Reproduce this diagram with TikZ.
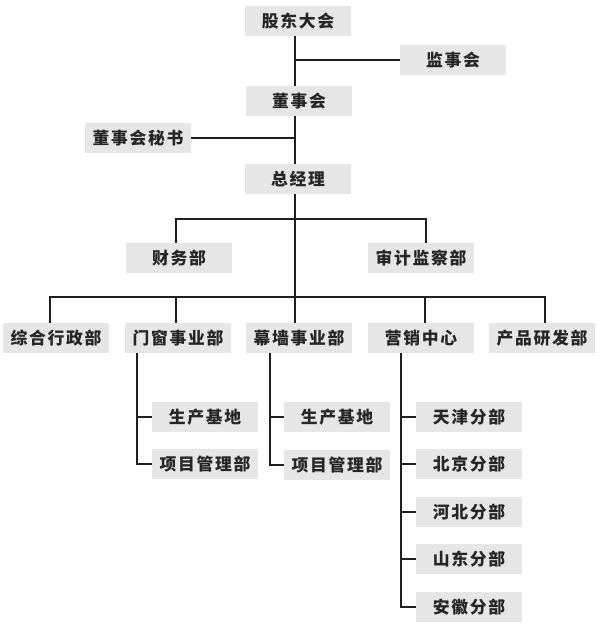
\documentclass[tikz,border=0pt]{standalone}
\usepackage{fontspec}
\newfontfamily\cjk[LetterSpace=10]{Noto Sans CJK SC}
\begin{document}
\begin{tikzpicture}[x=1pt,y=-1pt,
  box/.style={fill=boxgray,minimum width=106pt,minimum height=30pt,inner sep=0pt,
    font=\cjk\bfseries\fontsize{16.8}{18}\selectfont,text=black!85},
  conn/.style={draw=black!88,line width=1.8pt}]
\definecolor{boxgray}{HTML}{E6E6E6}
\useasboundingbox (0,0) rectangle (595,624);
\fill[white] (0,0) rectangle (595,624);
% top chain
\node[box] (gd)  at (298,21)  {股东大会};
\node[box] (js)  at (453,60)  {监事会};
\node[box] (dsh) at (299,101) {董事会};
\node[box] (ms)  at (138,138) {董事会秘书};
\node[box] (zjl) at (298,179) {总经理};
\node[box] (cw)  at (179,258) {财务部};
\node[box] (sj)  at (421,258) {审计监察部};
% main row
\node[box] (zh) at (56,338)  {综合行政部};
\node[box] (mc) at (178,338) {门窗事业部};
\node[box] (mq) at (299,338) {幕墙事业部};
\node[box] (yx) at (421,338) {营销中心};
\node[box] (cp) at (542,338) {产品研发部};
% sub boxes
\node[box] (mc1) at (205,417) {生产基地};
\node[box] (mc2) at (205,464) {项目管理部};
\node[box] (mq1) at (337,417) {生产基地};
\node[box] (mq2) at (337,465) {项目管理部};
\node[box] (yx1) at (469,417) {天津分部};
\node[box] (yx2) at (469,464) {北京分部};
\node[box] (yx3) at (469,512) {河北分部};
\node[box] (yx4) at (469,559) {山东分部};
\node[box] (yx5) at (469,607) {安徽分部};
% coordinates
\coordinate (t0) at (295,0);
\coordinate (b1) at (295,219);
\coordinate (bus) at (295,297);
\coordinate (d1) at (50,297);
\coordinate (d2) at (176,297);
\coordinate (d4) at (425,297);
\coordinate (d5) at (545,297);
\coordinate (cwx) at (176,0);
\coordinate (sjx) at (426,0);
\coordinate (mcx) at (137,0);
\coordinate (mqx) at (270,0);
\coordinate (yxx) at (401,0);
% trunk
\draw[conn] (gd.south -| t0) -- (dsh.north -| t0);
\draw[conn] (dsh.south -| t0) -- (zjl.north -| t0);
\draw[conn] (zjl.south -| t0) -- (bus);
\draw[conn] (js.west -| t0) -- (js.west);
\draw[conn] (ms.east) -- (ms.east -| t0);
% finance / audit
\draw[conn] (cw.north -| cwx) -- (b1 -| cwx) -- (b1 -| sjx) -- (sj.north -| sjx);
% bus
\draw[conn] (zh.north -| d1) -- (d1) -- (d5) -- (cp.north -| d5);
\draw[conn] (d2) -- (mc.north -| d2);
\draw[conn] (bus) -- (mq.north -| bus);
\draw[conn] (d4) -- (yx.north -| d4);
% sub trees
\draw[conn] (mc.south -| mcx) -- (mc2.west -| mcx) -- (mc2.west);
\draw[conn] (mc1.west -| mcx) -- (mc1.west);
\draw[conn] (mq.south -| mqx) -- (mq2.west -| mqx) -- (mq2.west);
\draw[conn] (mq1.west -| mqx) -- (mq1.west);
\draw[conn] (yx.south -| yxx) -- (yx5.west -| yxx) -- (yx5.west);
\foreach \n in {yx1,yx2,yx3,yx4} \draw[conn] (\n.west -| yxx) -- (\n.west);
\end{tikzpicture}
\end{document}
